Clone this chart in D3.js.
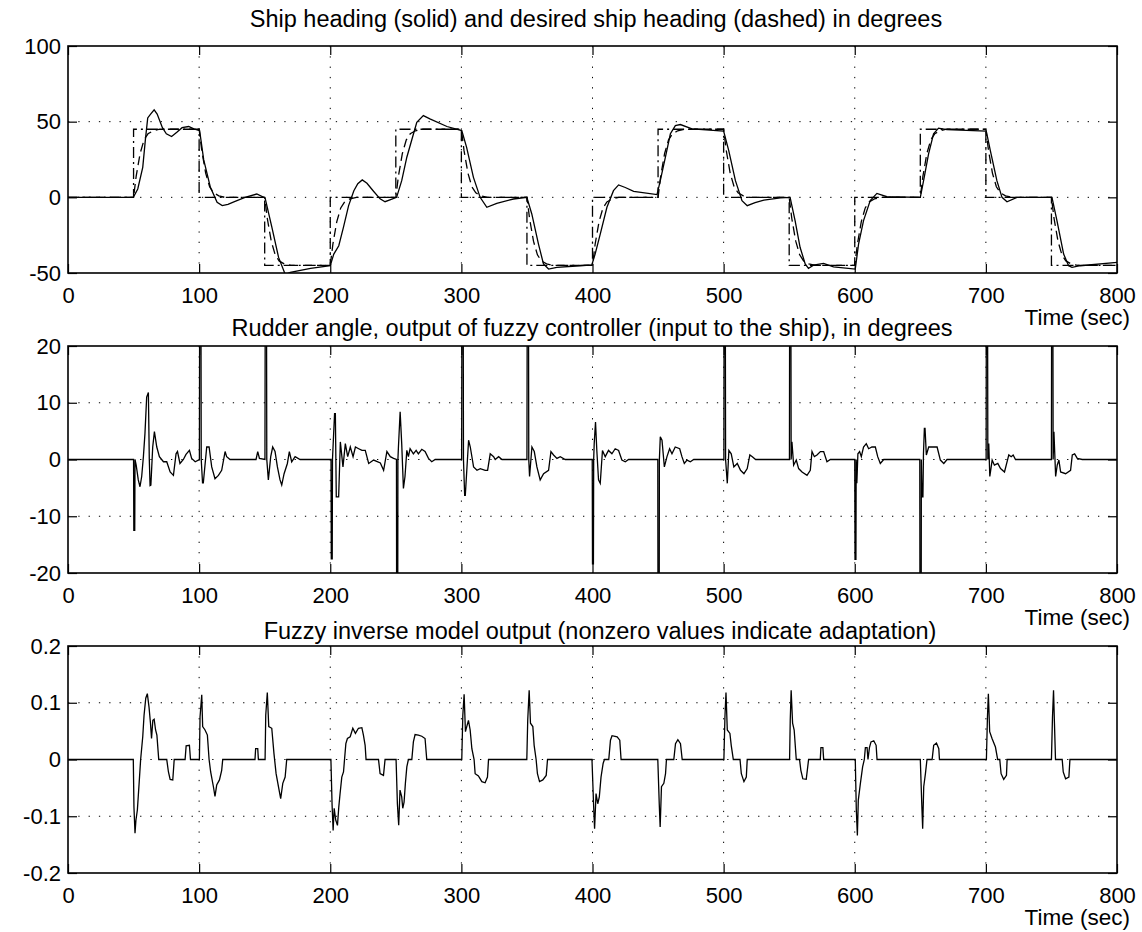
<!DOCTYPE html>
<html>
<head>
<meta charset="utf-8">
<script src="https://cdn.jsdelivr.net/npm/d3@7"></script>
<style>
  body { margin: 0; background: #fff; }
  text { fill: #000; }
</style>
</head>
<body>
<div id="vis"></div>
<script>
// ---- data ----
var timeTicks = [0, 100, 200, 300, 400, 500, 600, 700, 800];
var headingTicks = [-50, 0, 50, 100];
var rudderTicks = [-20, -10, 0, 10, 20];
var inverseTicks = [-0.2, -0.1, 0, 0.1, 0.2];

var titles = [
  "Ship heading (solid) and desired ship heading (dashed) in degrees",
  "Rudder angle, output of fuzzy controller (input to the ship), in degrees",
  "Fuzzy inverse model output (nonzero values indicate adaptation)"
];

// step command (dash-dot)
var commandHeading = [
  [0,0],[50,0],[50,45],[100,45],[100,0],[150,0],[150,-45],[200,-45],[200,0],[250,0],[250,45],[300,45],
  [300,0],[350,0],[350,-45],[400,-45],[400,0],[450,0],[450,45],[500,45],[500,0],[550,0],[550,-45],[600,-45],
  [600,0],[650,0],[650,45],[700,45],[700,0],[750,0],[750,-45],[800,-45]
];

// reference model output (dashed)
var desiredHeading = [
  [0,0],[50,0],[52,14],[55,29],[58,38],[61,42],[65,44],[70,45],
  [100,45],[102,31],[105,16],[108,7],[111,3],[115,1],[120,0],
  [150,0],[152,-14],[155,-29],[158,-38],[161,-42],[165,-44],[170,-45],
  [200,-45],[202,-31],[205,-16],[208,-7],[211,-3],[215,-1],[220,0],
  [250,0],[252,14],[255,29],[258,38],[261,42],[265,44],[270,45],
  [300,45],[302,31],[305,16],[308,7],[311,3],[315,1],[320,0],
  [350,0],[352,-14],[355,-29],[358,-38],[361,-42],[365,-44],[370,-45],
  [400,-45],[402,-31],[405,-16],[408,-7],[411,-3],[415,-1],[420,0],
  [450,0],[452,14],[455,29],[458,38],[461,42],[465,44],[470,45],
  [500,45],[502,31],[505,16],[508,7],[511,3],[515,1],[520,0],
  [550,0],[552,-14],[555,-29],[558,-38],[561,-42],[565,-44],[570,-45],
  [600,-45],[602,-31],[605,-16],[608,-7],[611,-3],[615,-1],[620,0],
  [650,0],[652,14],[655,29],[658,38],[661,42],[665,44],[670,45],
  [700,45],[702,31],[705,16],[708,7],[711,3],[715,1],[720,0],
  [750,0],[752,-14],[755,-29],[758,-38],[761,-42],[765,-44],[770,-45],[800,-45]
];

// ship heading (solid)
var shipHeading = [
  [0,0],[49.8,0],[53.2,5.5],[57,19.8],[59,38],[60.8,52.5],[63,55],[65.7,57.8],[68,55],[72,46],[75,42],
  [79,40.2],[83,43],[87,46],[92,46.8],[96,45.2],[100.4,44],[103.5,24.7],[108.6,6.6],[113.7,-3.3],
  [117.6,-5.5],[122,-4.6],[126.5,-3],[135,0],[144,2.2],[150.3,-0.4],[155.5,-19.9],[160.6,-39.7],
  [165.7,-51],[169.5,-49.6],[185,-47],[200,-45.2],[202.7,-37.5],[206.5,-32],[210,-20],[214,-5.5],
  [218,4.4],[221,9],[224.4,11.5],[228,9.3],[233,4],[238,-1],[241.8,-2.9],[246,-1.5],[250.6,0],
  [254.5,11],[258.4,26.5],[263.5,42],[266,49.6],[271,54],[276,51.8],[289,46.8],[300.3,44.1],[304,33],
  [309.2,13.2],[314.3,0],[319.4,-6.6],[327,-4],[339.7,-1.1],[349.9,0],[353.7,-11],[358.8,-30.9],
  [362.6,-44],[366.5,-47.4],[372.8,-46.3],[390.6,-45.2],[399.5,-44.6],[402,-37.5],[405.9,-24.3],
  [411,-6.6],[416,4.4],[419.9,8.2],[425,6.5],[431.4,4],[449.2,1.8],[451.7,11],[455.6,26.5],[459.4,42],
  [463.2,47.4],[467,48.1],[475.9,45.2],[500,43.7],[503.9,30.9],[509,11],[514,-2.2],[518,-5.5],
  [524,-3.5],[530.7,-1.8],[543.4,-0.4],[550.7,0],[554.5,-15.4],[558.3,-33],[562.2,-44],[564.7,-47],
  [568.5,-44.8],[576.2,-43.7],[583.8,-45.9],[600.4,-47.4],[602.9,-30.9],[606.7,-15.4],[611.8,-2.2],
  [616.9,2.6],[624.5,0.4],[650,0],[652.5,11],[656.3,28.7],[660.1,42],[663.9,45.7],[670.3,44.8],
  [700.3,43.7],[703.4,30.9],[708.4,11],[712.3,0],[716.1,-2.9],[723.7,0],[750.4,0],[754.2,-15.4],
  [759.3,-37.5],[763.1,-45.2],[765.7,-46.3],[772,-45.2],[800,-43]
];

// rudder angle (spikes beyond +/-20 are clipped by the axes)
var rudderAngle = [
  [0,0],[50,0],[50.2,-12.5],[50.9,-12.5],[51.1,0],[52,-1],[53.6,-3.6],[54.9,-4.8],[56.2,-3],[57.5,0.5],
  [58.7,4.6],[60,11],[61.3,11.8],[62,0],[62.6,-4.6],[63.2,-4.5],[64.6,2.2],[65.9,4.9],[67.7,2.2],
  [69.7,0.5],[72.8,-0.4],[75.3,-0.4],[77.9,-2.2],[80.4,-2.8],[82.4,1],[83.5,1.4],[85.4,-0.7],[88,0],
  [90,0.9],[92.6,1.6],[94.3,0.2],[97,-0.4],[100.2,0],
  [100.5,40],[101.3,40],[101.6,0],[102.6,-4.1],[103.2,-4.1],[105.8,2.2],[107.6,2.2],[109.6,-1.3],
  [112.1,-3.4],[114.7,-2.8],[117.2,-1.9],[119.8,1.4],[121,0.5],[123.6,0],[143.4,0],[144.7,1.4],
  [146,0.2],[150.2,0],
  [150.5,40],[151.3,40],[151.6,0],[152.8,-3.6],[154.6,0.5],[156.1,2.2],[157.9,1.4],[159.7,-1.3],
  [161.7,-3.6],[163,-4.5],[164.8,-2.5],[167.3,-0.7],[168.8,1.4],[170.6,-0.4],[173.2,0.5],[177,0],
  [200.6,0],[200.8,-17.5],[201.5,-17.5],[201.7,0],[202.6,4.6],[203.3,8.1],[203.9,8.1],[204.6,-6.6],
  [206.4,-6.6],[207.7,3.1],[209.7,-1.3],[211.5,2.8],[213.3,0.5],[215.3,2.2],[217.4,0.5],[219.2,2.2],
  [221.7,1.9],[224.2,1.6],[226.7,1.6],[229.3,-0.7],[233.1,-0.1],[238.2,-0.6],[240.7,-1.9],[243.2,1.4],
  [245.8,0.5],[248.3,0.2],[250.5,0],
  [250.7,-40],[251.4,-40],[251.6,0],[252,2.2],[253.3,8.4],[254.5,2.8],[255.8,-5.1],[257,-3],[258.4,1.6],
  [259.6,0.5],[260.9,1.9],[263.4,1],[265.5,1.6],[267.2,1],[269.8,1.8],[272.3,1.4],[274.9,0.2],
  [277.4,-0.4],[280,0],[300.2,0],
  [300.5,40],[301.3,40],[301.6,0],[302.5,-6.3],[303,-6.3],[305.5,3.4],[306.8,2.2],[309.3,-1.3],
  [311.9,-1.9],[314.4,-1.6],[318.2,-1.9],[320,-1.9],[322,1],[324.6,0.5],[325.8,0],[328.4,0.5],[331,0],
  [350,0],[350.3,40],[351.1,40],[351.4,0],[352,-3],[353.8,2.2],[355.6,1.4],[357.6,-1.3],[360.1,-3.6],
  [362.7,-2.5],[366.5,-1.9],[368.3,1.4],[370.3,0.8],[372.9,0.2],[375.4,0.5],[379.2,0],[399.8,0],
  [400,-18.4],[400.7,-18.4],[400.9,0],[401.3,2.8],[402.3,6.6],[403.3,1.6],[404.6,-3.6],[405.9,-4.2],
  [407.6,1.6],[409.7,0.5],[412.2,1.6],[414.8,1],[417.3,1.9],[419.9,1.6],[422.4,-0.1],[425,-0.4],
  [427.5,0],[449.8,0],
  [450,-40],[450.8,-40],[451,0],[451.7,4],[453,3.4],[454.8,-1.3],[456.8,0.5],[458.8,1.9],[460.6,1],
  [463.1,2.2],[466.5,1.9],[468.2,0.5],[470,-0.7],[472.1,-0.1],[474.6,-0.4],[477.2,0],[500.2,0],
  [500.4,40],[501.2,40],[501.5,0],[502.8,-4.2],[504,1.6],[505.8,1],[507.8,-1.3],[510.4,-0.7],
  [512.9,-1.9],[515.5,-2.5],[518,-1.6],[520,0.8],[521.9,0.5],[524.4,0],[550.2,0],
  [550.4,40],[551.2,40],[551.5,0],[552.1,3.1],[553.4,-1],[555.4,-0.1],[557.2,-1.6],[559.8,-2.2],
  [563.6,-2.8],[566.1,-1.9],[567.4,1.4],[569.2,0.5],[571.2,0.8],[573.8,1.4],[576.3,1.4],[578.8,-0.4],
  [581.4,0],[600,0],
  [600.2,-17.6],[600.9,-17.6],[601.1,0],[601.6,-4.2],[602.4,1],[603.7,1.4],[605,0.5],[606.7,2.2],
  [608.8,2.8],[610.6,1.9],[613.1,2.2],[615.7,2.2],[617.5,0.5],[619.5,-0.7],[622.1,0],[649.6,0],
  [649.8,-40],[650.6,-40],[650.8,0],[651.3,-6.6],[652,-6.6],[652.4,1],[653.1,5.5],[653.6,5.5],
  [654.6,0.8],[656.4,2.2],[659,2.2],[662.8,2.2],[665.3,-0.1],[667.9,-0.7],[670.4,0],[700.2,0],
  [700.4,40],[701.2,40],[701.5,0],[702.2,2.8],[703,-3],[704.8,-0.1],[706.5,-1],[709.1,-0.7],
  [711.2,-1.6],[714.2,-2.2],[717.5,0.8],[719.3,0.5],[720.8,0.8],[722.6,0],[750,0],
  [750.2,40],[751,40],[751.3,0],[751.9,4.9],[753.2,-3],[754.4,-1],[755.7,-0.1],[757,-2.2],
  [760.8,-2.5],[764.6,-1.9],[765.9,0.8],[767.7,1],[769.7,0.2],[773.5,0],[800,0]
];

// fuzzy inverse model output
var inverseOutput = [
  [0,0],[49.8,0],[50.3,-0.084],[51.1,-0.13],[51.8,-0.107],[52.9,-0.089],[54.4,-0.036],[55.4,0],[57,0.04],
  [58,0.078],[59.3,0.108],[60.5,0.116],[61.8,0.092],[62.9,0.064],[63.7,0.037],[64.7,0.069],[65.7,0.071],
  [66.8,0.052],[67.8,0.043],[69.2,0],[75.3,0],[76.6,-0.022],[77.9,-0.035],[79.9,-0.036],[81,0],[89.3,0],
  [90.1,0.024],[92.6,0.025],[93.4,0],[100.2,0],[100.7,0.075],[102,0.114],[102.7,0.058],[104.5,0.052],
  [106.3,0.043],[107.6,0],[108.8,-0.022],[110.9,-0.048],[112.1,-0.065],[113.4,-0.045],[115.5,-0.036],
  [117.2,-0.019],[118,0],[142.6,0],[143.1,0.019],[144.7,0.019],[145.2,0],[150.3,0],[150.8,0.078],
  [152,0.118],[153.1,0.058],[155.4,0.055],[157.1,0.01],[158.7,-0.025],[160.5,-0.048],[162.2,-0.069],
  [163.8,-0.042],[165.6,-0.031],[166.8,0],
  [200.5,0],[201.4,-0.08],[202.2,-0.125],[203,-0.086],[204.2,-0.107],[205.5,-0.116],[206.5,-0.084],
  [207.5,-0.06],[208.8,-0.031],[210.1,-0.022],[211.9,0.028],[213.1,0.037],[215.2,0.04],[217.2,0.055],
  [219.2,0.046],[221.5,0.055],[224.1,0.056],[225.3,0.043],[226.6,0.025],[227.3,0],[236.8,0],[238,-0.025],
  [240.6,-0.028],[241.8,0],
  [250.2,0],[251.2,-0.078],[252.2,-0.116],[253.2,-0.054],[254.5,-0.066],[255.3,-0.086],[256.3,-0.075],
  [257.3,-0.042],[258.4,-0.013],[259.6,0],[262.2,0],[263.4,0.031],[264.7,0.044],[267.2,0.043],
  [269.8,0.041],[272.3,0.037],[273.6,0],
  [300.3,0],[301.1,0.078],[302.1,0.115],[303.1,0.049],[304.1,0.058],[305.4,0.069],[306.7,0.052],
  [308,0.019],[309.7,0],[310.5,-0.025],[313,-0.029],[315.6,-0.039],[318.1,-0.041],[319.9,-0.031],[320.7,0],
  [349.9,0],[350.6,0.069],[351.7,0.122],[352.7,0.064],[354.5,0.058],[355.5,0.025],[357,0],[358,-0.025],
  [359.6,-0.039],[362.1,-0.036],[364.7,-0.028],[365.7,0],
  [399.6,0],[400.9,-0.084],[401.6,-0.122],[402.7,-0.06],[404,-0.078],[405.2,-0.066],[406.5,-0.031],
  [408.1,-0.007],[409.1,0],[412.4,0],[413.7,0.034],[414.9,0.042],[418.8,0.04],[420.8,0.034],[421.8,0],
  [449.8,0],[450.9,-0.078],[451.6,-0.119],[452.6,-0.048],[454.4,-0.042],[455.7,-0.025],[456.4,0],[462,0],
  [463.3,0.028],[465.1,0.035],[467.1,0.028],[468.4,0],
  [500.2,0],[501,0.075],[501.8,0.118],[502.8,0.052],[504.8,0.046],[505.8,0.025],[507.4,0],[512.5,0],
  [513.5,-0.025],[515.5,-0.039],[517.3,-0.031],[518,0],
  [550.3,0],[550.8,0.069],[551.5,0.122],[552.6,0.064],[553.8,0.052],[555.4,0],[557.9,0],[558.9,-0.019],
  [560.4,-0.034],[563,-0.035],[564.8,0],[573.7,0],[574.2,0.021],[575.7,0.021],[576.3,0],
  [600.4,0],[601.2,-0.089],[602,-0.134],[602.7,-0.072],[604.3,-0.042],[606,-0.013],[607.3,0],[608.1,0.021],
  [609.4,0.021],[610.1,0],[611.2,0.021],[612.4,0.031],[614.5,0.033],[616.3,0.025],[617,0],
  [650,0],[651.1,-0.078],[651.8,-0.122],[652.6,-0.048],[653.9,-0.025],[655.1,0],[659,0],[660.2,0.025],
  [662.3,0.029],[664.1,0.019],[664.6,0],
  [700.4,0],[701.2,0.075],[701.9,0.116],[702.9,0.049],[704.7,0.037],[707.3,0.022],[709,0],[710.6,0],
  [711.6,-0.025],[713.6,-0.035],[715.7,-0.028],[716.2,0],
  [750,0],[750.8,0.075],[751.6,0.122],[752.3,0.064],[753.1,0],[758.2,0],[759,-0.022],[760.8,-0.034],
  [763.3,-0.031],[764.1,0],[800,0]
];

// ---- layout ----
var elem_width = 1142;
var elem_height = 932;
var plot_left = 68;
var plot_width = 1049;
var plot_height = 227;
var fontFamily = "'Liberation Sans', Arial, Helvetica, sans-serif";

var panels = [
  { top: 46,  titleY: 27,  titleX: 596, domain: [-50, 100],  ticks: headingTicks,
    series: [ { data: commandHeading, dash: "11,4,2,4" },
              { data: desiredHeading, dash: "9,5" },
              { data: shipHeading, dash: null } ] },
  { top: 346, titleY: 336, titleX: 592, domain: [-20, 20],   ticks: rudderTicks,
    series: [ { data: rudderAngle, dash: null } ] },
  { top: 646, titleY: 639, titleX: 600, domain: [-0.2, 0.2], ticks: inverseTicks,
    series: [ { data: inverseOutput, dash: null } ] }
];

var svg = d3.select("#vis")
    .append("svg")
    .attr("width", elem_width)
    .attr("height", elem_height)
    .style("font-family", fontFamily)
    .style("font-size", "22px");

svg.append("rect")
  .attr("width", elem_width)
  .attr("height", elem_height)
  .attr("fill", "#fff");

var x = d3.scaleLinear().domain([0, 800]).range([0, plot_width]);

panels.forEach(function(p, i) {
  var y = d3.scaleLinear().domain(p.domain).range([plot_height, 0]);
  var g = svg.append("g").attr("transform", "translate(" + plot_left + "," + p.top + ")");

  g.append("clipPath").attr("id", "clip" + i)
    .append("rect").attr("width", plot_width).attr("height", plot_height);

  // dotted grid
  g.selectAll(".vgrid")
    .data(timeTicks.slice(1, -1)).enter()
    .append("line")
    .attr("x1", function(d) { return x(d); })
    .attr("x2", function(d) { return x(d); })
    .attr("y1", 0).attr("y2", plot_height)
    .attr("stroke", "#000").attr("stroke-width", 1)
    .attr("stroke-dasharray", "1.3,9");
  g.selectAll(".hgrid")
    .data(p.ticks.slice(1, -1)).enter()
    .append("line")
    .attr("y1", function(d) { return y(d); })
    .attr("y2", function(d) { return y(d); })
    .attr("x1", 0).attr("x2", plot_width)
    .attr("stroke", "#000").attr("stroke-width", 1)
    .attr("stroke-dasharray", "1.3,9");

  var line = d3.line()
    .x(function(d) { return x(d[0]); })
    .y(function(d) { return y(d[1]); });

  p.series.forEach(function(s) {
    g.append("path")
      .datum(s.data)
      .attr("clip-path", "url(#clip" + i + ")")
      .attr("d", line)
      .attr("fill", "none")
      .attr("stroke", "#000")
      .attr("stroke-width", 1.3)
      .attr("stroke-dasharray", s.dash);
  });

  // ticks on all four sides, pointing inward
  var axes = [
    { a: d3.axisBottom(x).tickValues(timeTicks).tickPadding(14).tickFormat(String), t: "translate(0," + plot_height + ")" },
    { a: d3.axisTop(x).tickValues(timeTicks).tickFormat(""), t: null },
    { a: d3.axisLeft(y).tickValues(p.ticks).tickPadding(7).tickFormat(String), t: null },
    { a: d3.axisRight(y).tickValues(p.ticks).tickFormat(""), t: "translate(" + plot_width + ",0)" }
  ];
  axes.forEach(function(ax) {
    var ag = g.append("g")
      .attr("transform", ax.t)
      .call(ax.a.tickSizeInner(-9).tickSizeOuter(0));
    ag.select(".domain").remove();
    ag.attr("font-size", 22).attr("font-family", fontFamily);
    ag.selectAll("line").attr("stroke-width", 1.2);
  });

  g.append("rect")
    .attr("width", plot_width)
    .attr("height", plot_height)
    .attr("fill", "none")
    .attr("stroke", "#000")
    .attr("stroke-width", 1.6);

  g.append("text")
    .attr("x", p.titleX - plot_left)
    .attr("y", p.titleY - p.top)
    .attr("text-anchor", "middle")
    .style("font-size", "23.5px")
    .text(titles[i]);

  g.append("text")
    .attr("x", 1130 - plot_left)
    .attr("y", plot_height + 52)
    .attr("text-anchor", "end")
    .style("font-size", "22.5px")
    .text("Time (sec)");
});
</script>
</body>
</html>
